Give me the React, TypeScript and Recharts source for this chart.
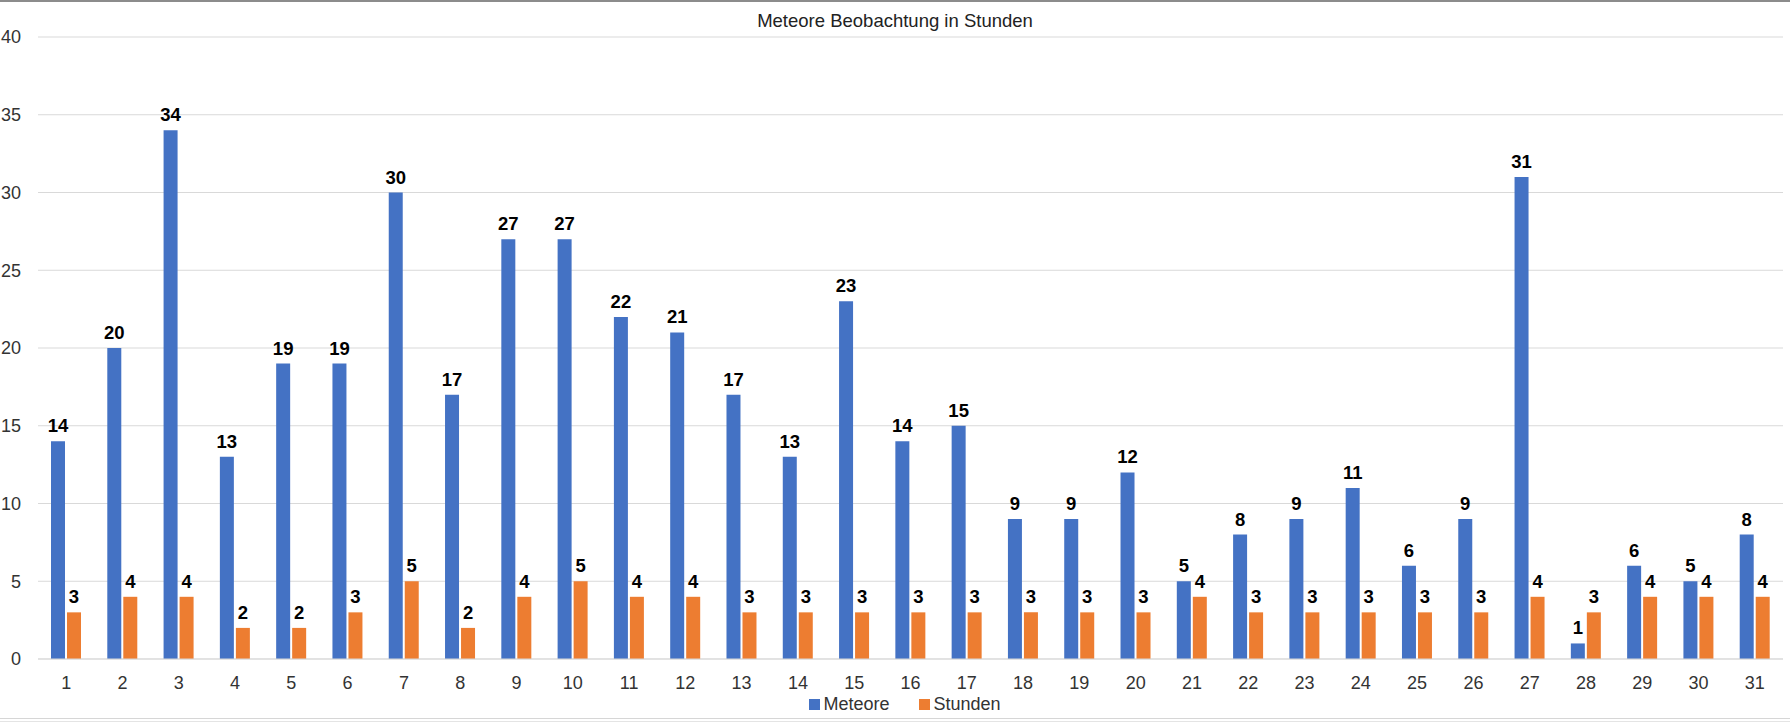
import React from 'react';
import { BarChart, Bar, XAxis, YAxis, CartesianGrid, Legend, LabelList } from 'recharts';

const days = [
  '1', '2', '3', '4', '5', '6', '7', '8', '9', '10', '11', '12', '13', '14', '15', '16',
  '17', '18', '19', '20', '21', '22', '23', '24', '25', '26', '27', '28', '29', '30', '31',
];
const meteore = [14, 20, 34, 13, 19, 19, 30, 17, 27, 27, 22, 21, 17, 13, 23, 14, 15, 9, 9, 12, 5, 8, 9, 11, 6, 9, 31, 1, 6, 5, 8];
const stunden = [3, 4, 4, 2, 2, 3, 5, 2, 4, 5, 4, 4, 3, 3, 3, 3, 3, 3, 3, 3, 4, 3, 3, 3, 3, 3, 4, 3, 4, 4, 4];
const yTicks = [0, 5, 10, 15, 20, 25, 30, 35, 40];

const data = days.map((day, i) => ({ day, meteore: meteore[i], stunden: stunden[i] }));

const FONT = '"Liberation Sans", Arial, sans-serif';
const BLUE = '#4472C4';
const ORANGE = '#ED7D31';

const LegendContent = () => (
  <div
    style={{
      display: 'flex',
      justifyContent: 'center',
      alignItems: 'center',
      height: 20,
      paddingLeft: 20,
      fontFamily: FONT,
      fontSize: 18,
      color: '#333',
    }}
  >
    <span style={{ width: 11, height: 11, background: BLUE, marginRight: 3 }} />
    <span style={{ marginRight: 30 }}>Meteore</span>
    <span style={{ width: 11, height: 11, background: ORANGE, marginRight: 3 }} />
    <span>Stunden</span>
  </div>
);

const App: React.FC = () => {
  return (
    <div
      style={{
        position: 'absolute',
        left: 0,
        top: 0,
        width: 1790,
        height: 724,
        background: '#fff',
        fontFamily: FONT,
        overflow: 'hidden',
      }}
    >
      <div style={{ position: 'absolute', left: 0, top: 0, width: 1790, height: 2, background: '#8c8c8c' }} />
      <div style={{ position: 'absolute', left: 0, top: 718, width: 1790, height: 1, background: '#d6d6d6' }} />
      <div style={{ position: 'absolute', left: 0, top: 721, width: 1790, height: 1, background: '#e4e4e4' }} />
      <div
        style={{
          position: 'absolute',
          left: 0,
          top: 12,
          width: 1790,
          textAlign: 'center',
          fontSize: 18.5,
          lineHeight: '18px',
          color: '#222',
        }}
      >
        Meteore Beobachtung in Stunden
      </div>
      <BarChart
        width={1790}
        height={724}
        data={data}
        margin={{ top: 37, right: 7, left: 0, bottom: 15 }}
        barSize={14}
        barGap={2}
        style={{ fontFamily: FONT }}
      >
        <CartesianGrid vertical={false} stroke="#d9d9d9" />
        <XAxis
          dataKey="day"
          height={30}
          tickSize={0}
          tickMargin={17}
          axisLine={{ stroke: '#d9d9d9' }}
          tickLine={false}
          tick={{ fontSize: 18, fill: '#333' }}
          interval={0}
        />
        <YAxis
          width={38}
          domain={[0, 40]}
          ticks={yTicks}
          tickSize={0}
          tickMargin={17}
          axisLine={false}
          tickLine={false}
          tick={{ fontSize: 18, fill: '#333' }}
        />
        <Legend
          verticalAlign="bottom"
          content={LegendContent}
          wrapperStyle={{ bottom: 10, left: 0, width: 1790 }}
        />
        <Bar dataKey="meteore" name="Meteore" fill={BLUE} isAnimationActive={false}>
          <LabelList dataKey="meteore" position="top" offset={9} fill="#000" fontSize={18.5} fontWeight={700} />
        </Bar>
        <Bar dataKey="stunden" name="Stunden" fill={ORANGE} isAnimationActive={false}>
          <LabelList dataKey="stunden" position="top" offset={9} fill="#000" fontSize={18.5} fontWeight={700} />
        </Bar>
      </BarChart>
    </div>
  );
};

export default App;
